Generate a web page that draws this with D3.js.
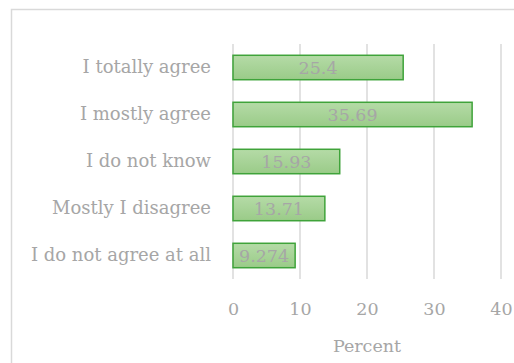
<!DOCTYPE html>
<html>
<head>
<meta charset="utf-8">
<script src="https://cdn.jsdelivr.net/npm/d3@7"></script>
<style>
  body { margin: 0; background: #fff; }
  text { font-family: "DejaVu Serif", serif; fill: #a6a6a6; }
</style>
</head>
<body>
<div id="container"></div>
<script>
"use strict";

const categories = ["I totally agree", "I mostly agree", "I do not know", "Mostly I disagree", "I do not agree at all"];
const values = [25.4, 35.69, 15.93, 13.71, 9.274];
const valueLabels = ["25.4", "35.69", "15.93", "13.71", "9.274"];
const tickValues = [0, 10, 20, 30, 40];
const axisTitle = "Percent";

const width = 514;
const height = 363;
const margin = { top: 44, right: 13, bottom: 84, left: 233 };
const fontSize = "17.5px";

const svg = d3.select("#container")
  .append("svg")
  .attr("width", width)
  .attr("height", height);

const defs = svg.append("defs");
const grad = defs.append("linearGradient")
  .attr("id", "barGrad")
  .attr("x1", 0).attr("y1", 0).attr("x2", 0).attr("y2", 1);
grad.append("stop").attr("offset", "0%").attr("stop-color", "#b5dba7");
grad.append("stop").attr("offset", "100%").attr("stop-color", "#9acb88");

// chart frame
svg.append("rect")
  .attr("x", 11.5)
  .attr("y", 9.5)
  .attr("width", width + 10)
  .attr("height", height + 10)
  .attr("fill", "none")
  .attr("stroke", "#d9d9d9")
  .attr("stroke-width", 1.5);

const x = d3.scaleLinear()
  .domain([0, 40])
  .range([margin.left, width - margin.right]);

const y = d3.scaleBand()
  .domain(categories)
  .range([margin.top, height - margin.bottom])
  .paddingInner(0.48)
  .paddingOuter(0.24);

// gridlines
svg.append("g")
  .selectAll("line")
  .data(tickValues)
  .enter()
  .append("line")
  .attr("x1", d => x(d))
  .attr("x2", d => x(d))
  .attr("y1", margin.top)
  .attr("y2", height - margin.bottom)
  .attr("stroke", "#d9d9d9")
  .attr("stroke-width", 1.5);

// bars
svg.append("g")
  .selectAll("rect")
  .data(values)
  .enter()
  .append("rect")
  .attr("x", x(0))
  .attr("y", (d, i) => y(categories[i]))
  .attr("width", d => x(d) - x(0))
  .attr("height", y.bandwidth())
  .attr("fill", "url(#barGrad)")
  .attr("stroke", "#3fa33a")
  .attr("stroke-width", 1.5);

// value labels
svg.append("g")
  .selectAll("text")
  .data(values)
  .enter()
  .append("text")
  .attr("x", d => (x(0) + x(d)) / 2)
  .attr("y", (d, i) => y(categories[i]) + y.bandwidth() / 2)
  .attr("dy", "0.38em")
  .attr("text-anchor", "middle")
  .style("font-size", fontSize)
  .text((d, i) => valueLabels[i]);

// category axis
const yAxis = d3.axisLeft(y).tickSize(0).tickPadding(22);
const gy = svg.append("g")
  .attr("transform", `translate(${margin.left},0)`)
  .call(yAxis);
gy.select(".domain").remove();
gy.selectAll("text")
  .style("font-size", "18px")
  .style("font-family", "DejaVu Serif")
  .attr("fill", "#a6a6a6");

// value axis
const xAxis = d3.axisBottom(x).tickValues(tickValues).tickSize(0).tickPadding(24);
const gx = svg.append("g")
  .attr("transform", `translate(0,${height - margin.bottom})`)
  .call(xAxis);
gx.select(".domain").remove();
gx.selectAll("text")
  .style("font-size", fontSize)
  .style("font-family", "DejaVu Serif")
  .attr("fill", "#a6a6a6");

svg.append("text")
  .attr("x", x(20))
  .attr("y", 346)
  .attr("dy", "0.35em")
  .attr("text-anchor", "middle")
  .style("font-size", fontSize)
  .text(axisTitle);
</script>
</body>
</html>
